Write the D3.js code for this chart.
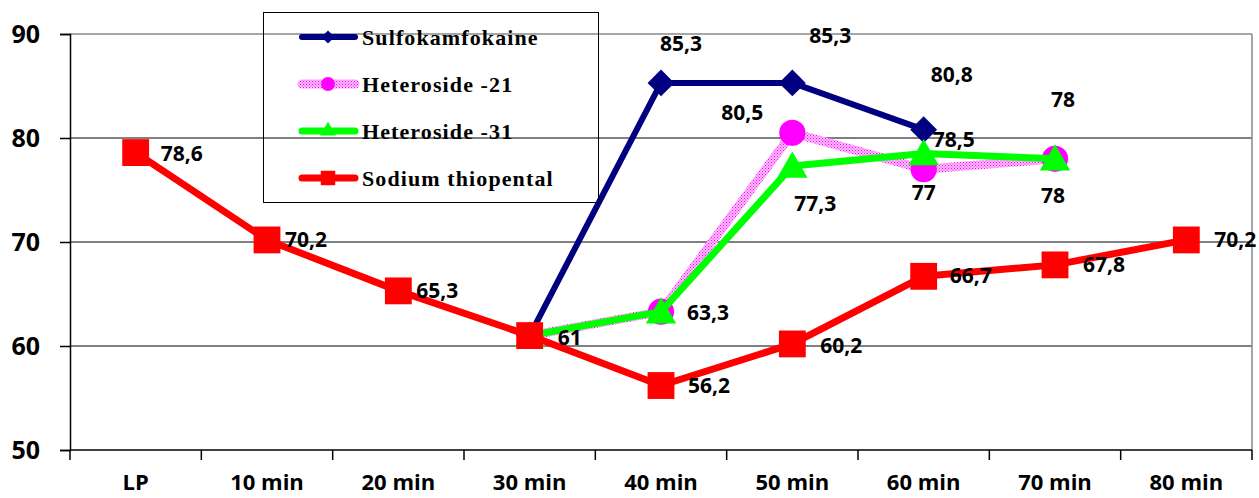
<!DOCTYPE html>
<html>
<head>
<meta charset="utf-8">
<script src="https://cdn.jsdelivr.net/npm/d3@7"></script>
<style>
  html, body { margin: 0; padding: 0; background: #fff; }
  svg { display: block; }
  .val { font-family: "Open Sans", "Liberation Sans", sans-serif; font-weight: 700; font-size: 21px; fill: #000; }
  .axis text { font-family: "Open Sans", "Liberation Sans", sans-serif; font-weight: 700; fill: #000; }
  .xaxis text { font-size: 22px; }
  .yaxis text { font-size: 25px; }
  .leg { font-family: "Liberation Serif", "Times New Roman", serif; font-weight: 700; font-size: 22px; letter-spacing: 1.1px; fill: #000; }
</style>
</head>
<body>
<svg id="chart" width="1259" height="498"></svg>
<script>
// === Datos ===
const categories = ['LP', '10 min', '20 min', '30 min', '40 min', '50 min', '60 min', '70 min', '80 min'];
const yTicks = [50, 60, 70, 80, 90];

const sulfokamfokaine = [null, null, null, 61, 85.3, 85.3, 80.8, null, null];
const heteroside21    = [null, null, null, 61, 63.3, 80.5, 77, 78, null];
const heteroside31    = [null, null, null, 61, 63.3, 77.3, 78.5, 78, null];
const sodiumThiopental = [78.6, 70.2, 65.3, 61, 56.2, 60.2, 66.7, 67.8, 70.2];

const seriesNames = ['Sulfokamfokaine', 'Heteroside -21', 'Heteroside -31', 'Sodium thiopental'];

// === Estilos por serie ===
const styles = [
  { values: sulfokamfokaine, stroke: '#000080', width: 6, symbol: d3.symbolDiamond2, size: 460, legSize: 110, fill: '#000080' },
  { values: heteroside21, stroke: 'url(#pinkHatch)', width: 9, symbol: d3.symbolCircle, size: 540, legSize: 150, fill: '#ff00ff' },
  { values: heteroside31, stroke: '#00ff00', width: 7, symbol: d3.symbolTriangle, size: 400, legSize: 110, fill: '#00ff00' },
  { values: sodiumThiopental, stroke: '#ff0000', width: 7, symbol: d3.symbolSquare, size: 720, legSize: 210, fill: '#ff0000' }
];

// donde va cada etiqueta (serie -> categoría -> [dx, dy, anchor])
const labelPos = {
  0: { 4: [20, -32, 'middle'], 5: [38, -40, 'middle'], 6: [28, -48, 'middle'] },
  1: { 5: [-50, -13, 'middle'], 6: [0, 31, 'middle'], 7: [8, -52, 'middle'] },
  2: { 4: [26, 8, 'start'], 5: [23, 45, 'middle'], 6: [9, -7, 'start'], 7: [-2, 44, 'middle'] },
  3: { 0: [25, 8, 'start'], 1: [18, 7, 'start'], 2: [18, 7, 'start'], 3: [28, 9, 'start'],
       4: [27, 7, 'start'], 5: [28, 9, 'start'], 6: [26, 7, 'start'], 7: [28, 7, 'start'], 8: [28, 7, 'start'] }
};

const fmt = v => String(v).replace('.', ',');

// === Escalas ===
const L = 70, R = 1252, T = 34, B = 450;
const x = d3.scaleBand().domain(categories).range([L, R]).padding(0);
const cx = c => x(c) + x.bandwidth() / 2;
const y = d3.scaleLinear().domain([50, 90]).range([B, T]);

const svg = d3.select('#chart');

// patrón del trazo rosado
const pat = svg.append('defs').append('pattern')
  .attr('id', 'pinkHatch').attr('patternUnits', 'userSpaceOnUse')
  .attr('width', 3).attr('height', 3);
pat.append('rect').attr('width', 3).attr('height', 3).attr('fill', '#ffc0ff');
pat.append('rect').attr('x', 0).attr('y', 0).attr('width', 1).attr('height', 1).attr('fill', '#ff00ff');
pat.append('rect').attr('x', 1.5).attr('y', 1.5).attr('width', 1).attr('height', 1).attr('fill', '#ff00ff');

// === Rejilla y bordes ===
svg.append('g').selectAll('line').data(yTicks.filter(t => t > 50 && t < 90)).join('line')
  .attr('x1', L).attr('x2', R).attr('y1', d => y(d)).attr('y2', d => y(d))
  .attr('stroke', '#000').attr('stroke-width', 1);
svg.append('line').attr('x1', L).attr('x2', R).attr('y1', y(90)).attr('y2', y(90))
  .attr('stroke', '#888').attr('stroke-width', 1.5);
svg.append('line').attr('x1', R).attr('x2', R).attr('y1', T).attr('y2', B)
  .attr('stroke', '#888').attr('stroke-width', 1.5);

// === Ejes ===
const yAxis = svg.append('g').attr('class', 'axis yaxis').attr('transform', `translate(${L},0)`)
  .call(d3.axisLeft(y).tickValues(yTicks).tickSize(10).tickPadding(20));
yAxis.select('.domain').attr('stroke', '#000').attr('stroke-width', 1.5);
yAxis.selectAll('.tick line').attr('stroke', '#000').attr('stroke-width', 1.5);

const xAxis = svg.append('g').attr('class', 'axis xaxis').attr('transform', `translate(0,${B})`)
  .call(d3.axisBottom(x).tickSize(0).tickPadding(24));
xAxis.select('.domain').remove();
svg.append('line').attr('x1', L).attr('x2', R).attr('y1', B).attr('y2', B)
  .attr('stroke', '#000').attr('stroke-width', 1.5);
svg.append('g').selectAll('line').data(categories.concat(['_end'])).join('line')
  .attr('x1', (d, i) => L + i * x.bandwidth()).attr('x2', (d, i) => L + i * x.bandwidth())
  .attr('y1', B).attr('y2', B + 10)
  .attr('stroke', '#000').attr('stroke-width', 1.5);

// === Series ===
const line = d3.line()
  .defined(d => d.v != null)
  .x(d => cx(d.c)).y(d => y(d.v));

styles.forEach((s, si) => {
  const pts = categories.map((c, i) => ({ c, i, v: s.values[i] }));
  const g = svg.append('g');
  g.append('path').datum(pts).attr('d', line)
    .attr('fill', 'none').attr('stroke', s.stroke).attr('stroke-width', s.width)
    .attr('stroke-linejoin', 'round').attr('stroke-linecap', 'round');
  g.selectAll('path.mk').data(pts.filter(d => d.v != null)).join('path')
    .attr('class', 'mk')
    .attr('d', d3.symbol(s.symbol, s.size))
    .attr('transform', d => `translate(${cx(d.c)},${y(d.v) + (s.symbol === d3.symbolTriangle ? 3 : 0)})`)
    .attr('fill', s.fill);
});

// === Etiquetas ===
styles.forEach((s, si) => {
  const pos = labelPos[si] || {};
  Object.keys(pos).forEach(k => {
    const i = +k, v = s.values[i];
    if (v == null) return;
    const [dx, dy, anchor] = pos[k];
    svg.append('text').attr('class', 'val')
      .attr('x', cx(categories[i]) + dx).attr('y', y(v) + dy)
      .attr('text-anchor', anchor)
      .text(fmt(v));
  });
});

// === Leyenda ===
const leg = svg.append('g');
leg.append('rect').attr('x', 263.5).attr('y', 12.5).attr('width', 335).attr('height', 190)
  .attr('fill', 'none').attr('stroke', '#000').attr('stroke-width', 1);
const legY = [37, 84, 131, 178];
styles.forEach((s, si) => {
  const yy = legY[si];
  leg.append('line').attr('x1', 302).attr('x2', 355).attr('y1', yy).attr('y2', yy)
    .attr('stroke', s.stroke).attr('stroke-width', s.width).attr('stroke-linecap', 'round');
  leg.append('path').attr('d', d3.symbol(s.symbol, s.legSize))
    .attr('transform', `translate(328,${yy})`).attr('fill', s.fill);
  leg.append('text').attr('class', 'leg').attr('x', 362).attr('y', yy + 8).text(seriesNames[si]);
});
</script>
</body>
</html>
